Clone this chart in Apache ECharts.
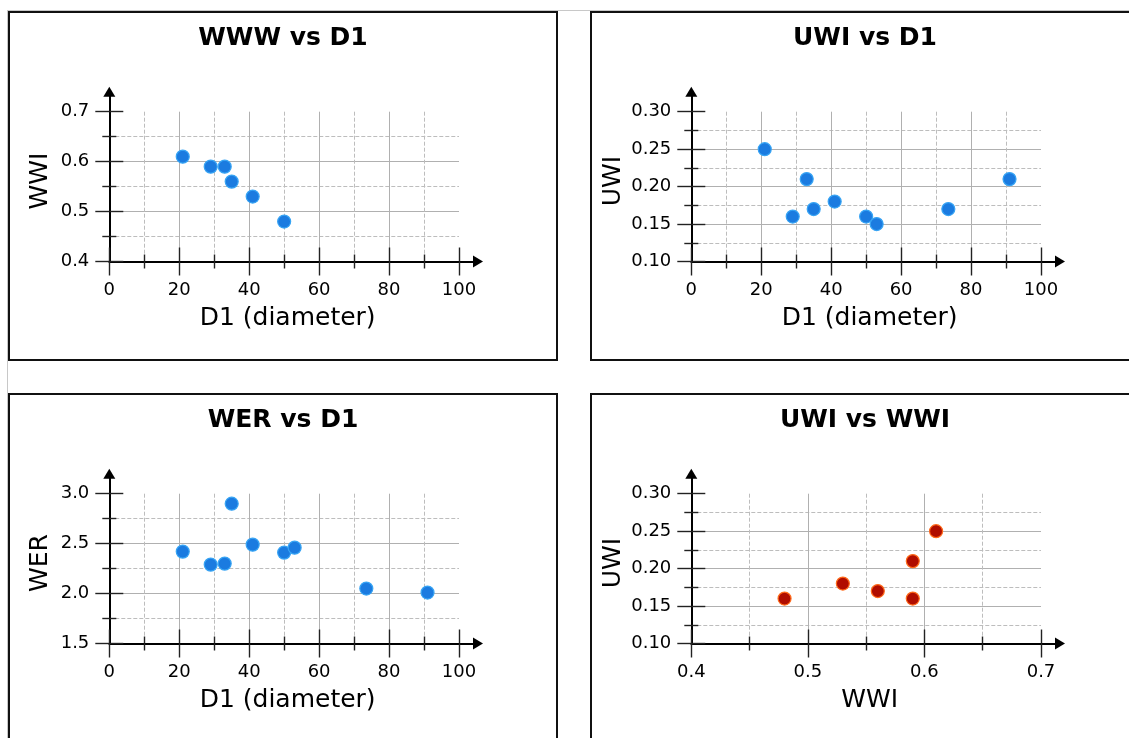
<!DOCTYPE html>
<html><head><meta charset="utf-8">
<script src="https://cdn.jsdelivr.net/npm/echarts@6/dist/echarts.min.js"></script>
<style>
html,body{margin:0;padding:0;background:#fff;width:1129px;height:738px;overflow:hidden;position:relative;}
#frame{position:absolute;left:7px;top:10px;width:1300px;height:900px;border-left:1px solid #c8c8c8;border-top:1px solid #c8c8c8;}
.box{position:absolute;width:546px;height:346px;border:2px solid #111;background:#fff;}
.chart{width:546px;height:346px;}
</style></head><body>
<div id="frame"></div>
<div class="box" style="left:8px;top:11px"><div id="c0" class="chart"></div></div>
<div class="box" style="left:590px;top:11px"><div id="c1" class="chart"></div></div>
<div class="box" style="left:8px;top:393px"><div id="c2" class="chart"></div></div>
<div class="box" style="left:590px;top:393px"><div id="c3" class="chart"></div></div>
<script>
// ---- data ----
const D1  = [21, 29, 33, 35, 41, 50, 53, 73.5, 91];
const WWI = [0.61, 0.59, 0.59, 0.56, 0.53, 0.48];
const UWI = [0.25, 0.16, 0.21, 0.17, 0.18, 0.16, 0.15, 0.17, 0.21];
const WER = [2.42, 2.29, 2.30, 2.90, 2.49, 2.41, 2.46, 2.05, 2.01];

// axis ranges: [min, max, interval, decimals]
const D1_AXIS  = [0, 100, 20, 0];
const WWI_AXIS = [0.4, 0.7, 0.1, 1];
const UWI_AXIS = [0.10, 0.30, 0.05, 2];
const WER_AXIS = [1.5, 3.0, 0.5, 1];

const TITLES = ['WWW vs D1', 'UWI vs D1', 'WER vs D1', 'UWI vs WWI'];

const FONT = 'DejaVu Sans';
const BLUE = {color: '#1b7be0', borderColor: '#37a4f4'};
const RED  = {color: '#b00d00', borderColor: '#ff6a1a'};

function pairs(xs, ys) {
  const out = [];
  for (let i = 0; i < Math.min(xs.length, ys.length); i++) out.push([xs[i], ys[i]]);
  return out;
}

const GA = {left: 99.3, top: 98.7, width: 349.7, height: 149.8};
const GB = {left: 99.3, top: 78.8, width: 368.7, height: 169.7};
const tickStyle = {color: '#222', width: 1.4};

function gridOf(g) {
  return Object.assign({show: false, containLabel: false, outerBoundsMode: 'none'}, g);
}

function mainAxis(dim, ax, name, gap, namePad) {
  const [mn, mx, iv, dec] = ax;
  return {
    gridIndex: 0, type: 'value', min: mn, max: mx, interval: iv,
    name: name, nameLocation: 'middle', nameGap: gap, nameMoveOverlap: false,
    nameTextStyle: {fontSize: 25, fontFamily: FONT, color: '#000', lineHeight: 25, padding: namePad},
    axisLine: {show: false, onZero: false},
    axisTick: {show: true, inside: false, length: 14, lineStyle: tickStyle},
    minorTick: {show: true, splitNumber: 2, length: 7, lineStyle: tickStyle},
    axisLabel: {
      show: true, margin: 20, fontSize: 18, fontFamily: FONT, color: '#000',
      showMinLabel: true, showMaxLabel: true,
      padding: dim === 'y' ? [4, 0, 0, 0] : 0,
      formatter: v => Number(v).toFixed(dec)
    },
    splitLine: {show: true, showMinLine: false, showMaxLine: false, lineStyle: {color: '#b0b0b0', width: 1}},
    minorSplitLine: {show: true, lineStyle: {color: '#bdbdbd', width: 1, type: [4, 2]}}
  };
}
function innerTickAxis(ax) {
  const [mn, mx, iv] = ax;
  return {
    gridIndex: 1, type: 'value', min: mn, max: mx, interval: iv,
    axisLine: {show: false, onZero: false},
    axisTick: {show: true, inside: true, length: 14, lineStyle: tickStyle},
    minorTick: {show: true, splitNumber: 2, length: 7, lineStyle: tickStyle},
    axisLabel: {show: false}, splitLine: {show: false}, minorSplitLine: {show: false}
  };
}
function arrowAxis() {
  return {
    gridIndex: 2, type: 'value', min: 0, max: 1,
    axisLine: {show: true, onZero: false, lineStyle: {color: '#000', width: 2},
      symbol: ['none', 'triangle'], symbolSize: [12, 10]},
    axisTick: {show: false}, axisLabel: {show: false}, splitLine: {show: false}
  };
}

function panel(id, title, xAx, yAx, xName, yName, yGap, data, style) {
  const chart = echarts.init(document.getElementById(id), null, {renderer: 'canvas'});
  chart.setOption({
    animation: false,
    title: {text: title, left: 'center', top: 12.5, padding: 0,
      textStyle: {fontSize: 25, fontWeight: 'bold', fontFamily: FONT, color: '#000', lineHeight: 25}},
    grid: [gridOf(GA), gridOf(GA), gridOf(GB)],
    xAxis: [mainAxis('x', xAx, xName, 44, [0, 0, 0, 7]), innerTickAxis(xAx), arrowAxis()],
    yAxis: [mainAxis('y', yAx, yName, yGap, [0, 0, 0, 11]), innerTickAxis(yAx), arrowAxis()],
    series: [{
      type: 'scatter', xAxisIndex: 0, yAxisIndex: 0, data: data, symbolSize: 13,
      itemStyle: {color: style.color, borderColor: style.borderColor, borderWidth: 1.2, opacity: 1},
      emphasis: {disabled: true}, silent: true, z: 5
    }]
  });
}

panel('c0', TITLES[0], D1_AXIS, WWI_AXIS, 'D1 (diameter)', 'WWI', 56, pairs(D1, WWI), BLUE);
panel('c1', TITLES[1], D1_AXIS, UWI_AXIS, 'D1 (diameter)', 'UWI', 65, pairs(D1, UWI), BLUE);
panel('c2', TITLES[2], D1_AXIS, WER_AXIS, 'D1 (diameter)', 'WER', 56, pairs(D1, WER), BLUE);
panel('c3', TITLES[3], WWI_AXIS, UWI_AXIS, 'WWI', 'UWI', 65, pairs(WWI, UWI), RED);
</script>
</body></html>
